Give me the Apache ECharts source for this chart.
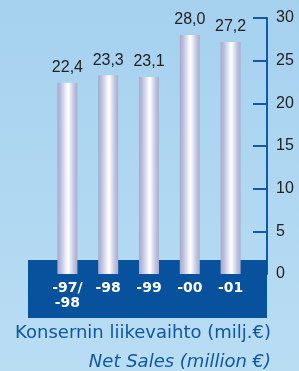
<!DOCTYPE html>
<html>
<head>
<meta charset="utf-8">
<script src="https://cdn.jsdelivr.net/npm/echarts@6/dist/echarts.min.js"></script>
<style>
  html, body { margin: 0; padding: 0; }
  #chart { width: 299px; height: 371px; }
</style>
</head>
<body>
<div id="chart"></div>
<script>
// data
const categories = ['-97/\n-98', '-98', '-99', '-00', '-01'];
const netSales = [22.4, 23.3, 23.1, 28.0, 27.2];
const titleFi = 'Konsernin liikevaihto (milj.€)';
const titleEn = 'Net Sales (million €)';

const chart = echarts.init(document.getElementById('chart'));

// cylinder look for the bars
const barFill = new echarts.graphic.LinearGradient(0, 0, 1, 0, [
  { offset: 0, color: '#a6a9cc' },
  { offset: 0.15, color: '#b9bcd9' },
  { offset: 0.32, color: '#d8daed' },
  { offset: 0.47, color: '#f6f7fc' },
  { offset: 0.55, color: '#ffffff' },
  { offset: 0.66, color: '#e4e6f3' },
  { offset: 0.82, color: '#c3c5df' },
  { offset: 1, color: '#a9acce' }
]);

const option = {
  backgroundColor: new echarts.graphic.LinearGradient(0, 0, 0, 1, [
    { offset: 0, color: '#a5d1ef' },
    { offset: 1, color: '#b9ddf3' }
  ]),
  animation: false,
  title: [
    {
      text: titleFi,
      right: 28,
      top: 324,
      padding: 0,
      textStyle: { fontFamily: 'DejaVu Sans', fontSize: 18, fontWeight: 'normal', color: '#0f57a0' }
    },
    {
      text: titleEn,
      right: 28,
      top: 353,
      padding: 0,
      textStyle: { fontFamily: 'DejaVu Sans', fontSize: 18, fontWeight: 'normal', fontStyle: 'italic', color: '#0f57a0' }
    }
  ],
  graphic: [
    {
      type: 'rect',
      z: 1,
      shape: { x: 28, y: 260, width: 239, height: 58 },
      style: { fill: '#08529d' }
    }
  ],
  grid: { left: 47, right: 48, top: 18, bottom: 97 },
  xAxis: {
    type: 'category',
    data: categories,
    z: 5,
    axisLine: { show: false },
    axisTick: { show: false },
    axisLabel: {
      color: '#ffffff',
      fontFamily: 'DejaVu Sans',
      fontWeight: 'bold',
      fontSize: 14,
      lineHeight: 15,
      margin: 7
    }
  },
  yAxis: {
    type: 'value',
    position: 'right',
    offset: 16,
    min: 0,
    max: 30,
    interval: 5,
    z: 0,
    splitLine: { show: false },
    axisLine: { show: true, lineStyle: { color: '#1559a3', width: 2 } },
    axisTick: { show: true, inside: true, length: 14, lineStyle: { color: '#1559a3', width: 2 } },
    axisLabel: {
      color: '#222222',
      fontFamily: 'Liberation Sans',
      fontSize: 16,
      margin: 9
    }
  },
  series: [
    {
      type: 'bar',
      data: netSales,
      barWidth: 20,
      z: 3,
      itemStyle: { color: barFill },
      label: {
        show: true,
        position: 'top',
        distance: 7,
        color: '#222222',
        fontFamily: 'Liberation Sans',
        fontSize: 16,
        formatter: p => p.value.toFixed(1).replace('.', ',')
      }
    }
  ]
};

chart.setOption(option);
</script>
</body>
</html>
